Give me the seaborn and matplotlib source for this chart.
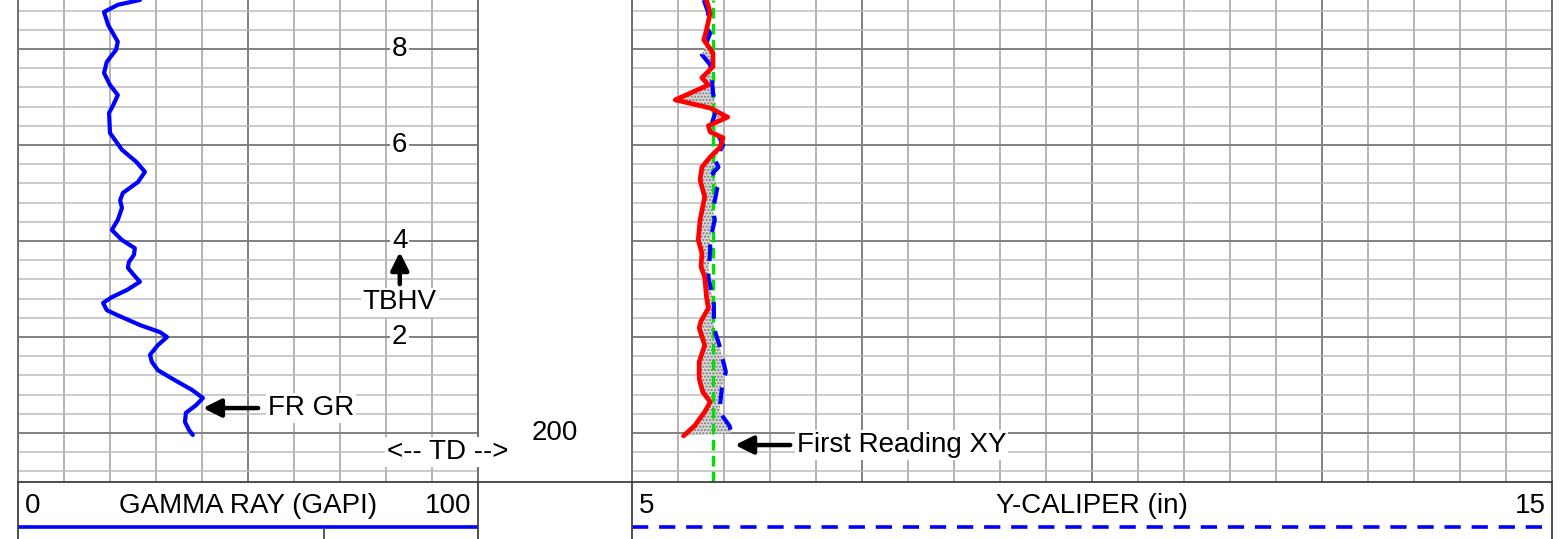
import numpy as np
import matplotlib
matplotlib.use("Agg")
import matplotlib.pyplot as plt
from matplotlib.pyplot import MultipleLocator
from matplotlib.lines import Line2D
import seaborn as sns

sns.set_style("white")
plt.rcParams['font.family'] = ['Liberation Sans', 'DejaVu Sans']
plt.rcParams['text.color'] = 'black'

# gamma ray (GAPI) vs depth
gr_depth = [209.02, 208.92, 208.77, 208.50, 208.15, 207.98, 207.73, 207.50, 207.25, 207.04,
            206.83, 206.67, 206.25, 205.90, 205.65, 205.44, 205.23, 205.00, 204.85, 204.69,
            204.44, 204.23, 204.02, 203.85, 203.71, 203.56, 203.44, 203.29, 203.15, 202.98,
            202.83, 202.71, 202.56, 202.46, 202.25, 202.10, 202.00, 201.83, 201.63, 201.48,
            201.31, 201.10, 200.90, 200.73, 200.58, 200.42, 200.23, 200.06, 199.96]
gr_value = [26.5, 21.7, 18.7, 19.6, 21.7, 21.3, 19.3, 18.7, 20.0, 21.7,
            20.7, 19.8, 20.0, 22.6, 25.7, 27.6, 26.1, 22.8, 22.2, 22.6,
            21.7, 20.4, 22.6, 25.4, 25.2, 24.1, 23.9, 25.2, 26.5, 23.7,
            20.4, 18.5, 19.3, 21.5, 26.5, 30.9, 32.4, 30.4, 28.7, 29.1,
            30.4, 34.1, 37.8, 40.2, 38.7, 36.5, 36.3, 37.2, 38.0]

# x-caliper (red) and y-caliper (blue dashed), inches
xcal_depth = [209.02, 208.75, 208.40, 208.19, 207.92, 207.63, 207.40, 207.25, 206.94, 206.77,
              206.58, 206.40, 206.27, 206.15, 205.96, 205.75, 205.54, 205.27, 204.92, 204.44,
              204.02, 203.75, 203.46, 203.25, 202.83, 202.60, 202.33, 202.19, 201.83, 201.48,
              201.13, 200.85, 200.65, 200.44, 200.15, 199.94]
xcal_value = [5.81, 5.85, 5.81, 5.78, 5.88, 5.88, 5.76, 5.83, 5.47, 5.85,
              6.04, 5.83, 5.85, 5.99, 5.96, 5.85, 5.76, 5.74, 5.79, 5.74,
              5.72, 5.76, 5.75, 5.79, 5.81, 5.83, 5.75, 5.73, 5.79, 5.73,
              5.73, 5.77, 5.85, 5.79, 5.68, 5.56]
ycal_depth = [209.02, 208.75, 208.46, 208.33, 207.88, 207.67, 207.35, 207.08, 206.77, 206.46,
              206.00, 205.69, 205.54, 205.42, 205.13, 204.65, 204.44, 204.02, 203.81, 203.25,
              202.69, 202.19, 201.83, 201.27, 201.00, 200.44, 200.15, 200.00]
ycal_value = [5.78, 5.83, 5.80, 5.85, 5.76, 5.85, 5.87, 5.88, 5.92, 5.87,
              5.99, 5.90, 5.94, 5.88, 5.93, 5.88, 5.90, 5.85, 5.85, 5.83,
              5.89, 5.89, 5.95, 6.02, 5.98, 5.95, 6.06, 6.08]
bit_size = 5.875

depth_top, depth_bot = 209.02, 198.98
depth_labels = ['8', '6', '4', '2']
depth_label_pos = [208, 206, 204, 202]
td_depth = 200

W, H = 1568, 539
fig = plt.figure(figsize=(W / 100, H / 100), dpi=100)


def px_box(x0, x1, y0, y1):
    return [x0 / W, 1 - y1 / H, (x1 - x0) / W, (y1 - y0) / H]


ax_gr = fig.add_axes(px_box(18, 478, 0, 482))
ax_cal = fig.add_axes(px_box(632, 1552, 0, 482))
ax_h1 = fig.add_axes(px_box(18, 478, 482, 539))
ax_h2 = fig.add_axes(px_box(632, 1552, 482, 539))

spine_col = '#707070'


def track_grid(ax, xmaj, xmin):
    ax.set_ylim(depth_bot, depth_top)
    ax.xaxis.set_major_locator(MultipleLocator(xmaj))
    ax.xaxis.set_minor_locator(MultipleLocator(xmin))
    ax.yaxis.set_major_locator(MultipleLocator(2))
    ax.yaxis.set_minor_locator(MultipleLocator(0.4))
    ax.grid(which='major', axis='both', color='#808080', lw=1.4)
    ax.grid(which='minor', axis='x', color='#a0a0a0', lw=1.1)
    ax.grid(which='minor', axis='y', color='#bcbcbc', lw=1.1)
    ax.tick_params(which='both', length=0, labelbottom=False, labelleft=False)
    ax.set_axisbelow(True)
    for s in ['top', 'bottom']:
        ax.spines[s].set_visible(False)
    for s in ['left', 'right']:
        ax.spines[s].set_color(spine_col)
        ax.spines[s].set_linewidth(1.4)


# gamma ray track
ax_gr.set_xlim(0, 100)
track_grid(ax_gr, 50, 10)
sns.lineplot(x=gr_value, y=gr_depth, sort=False, estimator=None, ax=ax_gr,
             color='#0000ff', lw=3.0, solid_joinstyle='round', solid_capstyle='round')

box = dict(facecolor='white', edgecolor='none', pad=1.5)
for lab, d in zip(depth_labels, depth_label_pos):
    ax_gr.text(83, d, lab, fontsize=20, ha='center', va='center', bbox=box, zorder=4)

arrow = dict(arrowstyle='-|>', color='black', lw=3.2, mutation_scale=27, shrinkA=0, shrinkB=0)
ax_gr.annotate('', xy=(83, 203.77), xytext=(83, 203.10), arrowprops=arrow, zorder=5)
ax_gr.text(83, 202.72, 'TBHV', fontsize=20, ha='center', va='center', bbox=box, zorder=4)

ax_gr.annotate('', xy=(40.2, 200.52), xytext=(52.2, 200.52), arrowprops=arrow, zorder=5)
ax_gr.text(54.3, 200.52, 'FR GR', fontsize=20, ha='left', va='center', bbox=box, zorder=4)

ax_gr.text(93.5, 199.60, '<-- TD -->', fontsize=20, ha='center', va='center',
           bbox=box, zorder=6, clip_on=False)
ax_gr.text(116.7, td_depth, str(td_depth), fontsize=20, ha='center', va='center',
           zorder=6, clip_on=False)

# caliper track
ax_cal.set_xlim(5, 15)
track_grid(ax_cal, 2.5, 0.5)
ax_cal.fill(np.r_[xcal_value, ycal_value[::-1]], np.r_[xcal_depth, ycal_depth[::-1]],
            facecolor='#d8d8d8', edgecolor='#7a7a7a', hatch='.....', linewidth=0, zorder=2)
ax_cal.axvline(bit_size, color='#00e000', lw=2.4, ls=(0, (3.2, 1.6)), zorder=3)
sns.lineplot(x=ycal_value, y=ycal_depth, sort=False, estimator=None, ax=ax_cal,
             color='#0000ff', lw=3.0, linestyle=(0, (4.0, 3.0)), zorder=3)
sns.lineplot(x=xcal_value, y=xcal_depth, sort=False, estimator=None, ax=ax_cal,
             color='#ff0000', lw=3.4, zorder=4, solid_joinstyle='round', solid_capstyle='round')

ax_cal.annotate('', xy=(6.12, 199.75), xytext=(6.72, 199.75), arrowprops=arrow, zorder=5)
ax_cal.text(6.79, 199.75, 'First Reading XY', fontsize=20, ha='left', va='center',
            bbox=box, zorder=4)

# header boxes
for ax, x0, x1 in [(ax_h1, 0, 100), (ax_h2, 5, 15)]:
    ax.set_xlim(x0, x1)
    ax.set_ylim(57, 0)
    ax.set_xticks([])
    ax.set_yticks([])
    for s in ['top', 'bottom']:
        ax.spines[s].set_visible(False)
    for s in ['left', 'right']:
        ax.spines[s].set_color('#404040')
        ax.spines[s].set_linewidth(1.3)

ax_h1.text(1.5, 24, '0', fontsize=20, ha='left', va='center')
ax_h1.text(50, 24, 'GAMMA RAY (GAPI)', fontsize=20, ha='center', va='center')
ax_h1.text(98.5, 24, '100', fontsize=20, ha='right', va='center')
ax_h1.plot([0, 100], [45, 45], color='#0000ff', lw=2.6, solid_capstyle='butt')
ax_h1.plot([66.5, 66.5], [46, 57], color='#404040', lw=1.2)

ax_h2.text(5.07, 24, '5', fontsize=20, ha='left', va='center')
ax_h2.text(10, 24, 'Y-CALIPER (in)', fontsize=20, ha='center', va='center')
ax_h2.text(14.93, 24, '15', fontsize=20, ha='right', va='center')
ax_h2.plot([5, 15], [45, 45], color='#0000ff', lw=2.6, linestyle=(0, (4.5, 3.0)))

fig.add_artist(Line2D([18 / W, 1552 / W], [1 - 482 / H, 1 - 482 / H],
                      color='#404040', lw=1.3, transform=fig.transFigure))

fig.savefig('out.png', dpi=100)
